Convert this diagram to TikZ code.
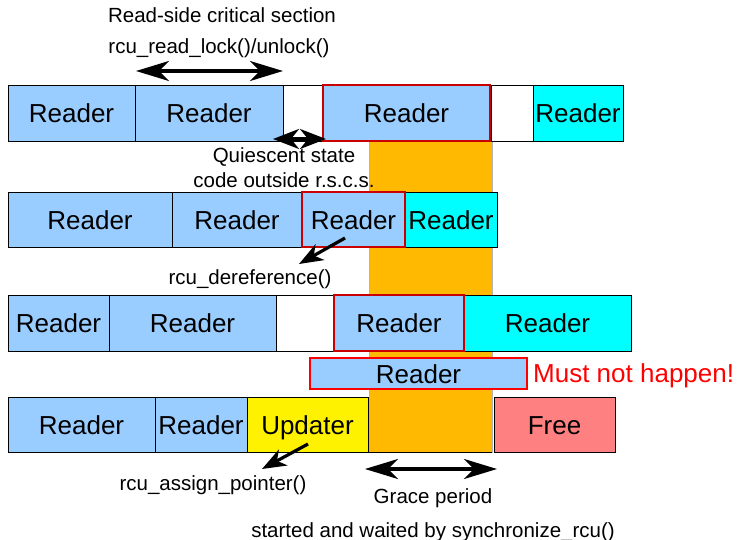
\documentclass[tikz,border=0pt]{standalone}
\usepackage{fontspec}
\setmainfont{Liberation Sans}
\usetikzlibrary{arrows.meta}

\definecolor{rdblue}{RGB}{153,204,255}
\definecolor{rdcyan}{RGB}{0,255,255}
\definecolor{gporange}{RGB}{255,185,0}
\definecolor{freered}{RGB}{255,128,128}
\definecolor{csred}{RGB}{200,0,0}

\begin{document}
\begin{tikzpicture}[x=1pt,y=-1pt,
	box/.style={draw, line width=0.8pt, anchor=north west, inner sep=0pt, outer sep=0pt,
		text height=20pt, text depth=0pt, font=\fontsize{26}{30}\selectfont},
	lbl/.style={anchor=base, inner sep=0pt, font=\fontsize{20.5}{24}\selectfont},
	dbl/.style={line width=3.2pt, {Stealth[length=33pt,width=20pt,inset=10pt]}-{Stealth[length=33pt,width=20pt,inset=10pt]}},
	dblshort/.style={line width=3.2pt, {Stealth[length=26pt,width=20pt,inset=8pt]}-{Stealth[length=26pt,width=20pt,inset=8pt]}},
	ptr/.style={line width=3.2pt, -{Stealth[length=24pt,width=18pt,inset=7pt]}}]
	\useasboundingbox (0,0) rectangle (740,540);

	% grace period band behind the rows
	\fill[gporange, draw=gray!60, line width=0.6pt] (369,141) rectangle (492,452);
	\draw[line width=0.8pt] (369,452) -- (492,452);

	% row 1
	\foreach \x/\w/\c/\t [count=\i] in {8/127/rdblue/Reader, 135/148/rdblue/Reader,
		283/40/white/{}, 491/42/white/{}, 533/90/rdcyan/Reader} {
		\node[box, fill=\c, minimum width=\w pt, minimum height=56pt] (a\i) at (\x,85) {\t};
	}
	\node[box, fill=rdblue, draw=csred, line width=1.5pt, minimum width=167pt, minimum height=56pt] (a6) at (323,85) {Reader};

	% row 2
	\foreach \x/\w/\c [count=\i] in {8/164/rdblue, 172/130/rdblue, 405/92/rdcyan} {
		\node[box, fill=\c, minimum width=\w pt, minimum height=55pt] (b\i) at (\x,192) {Reader};
	}
	\node[box, fill=rdblue, draw=csred, line width=1.5pt, minimum width=103pt, minimum height=55pt] (b4) at (302,192) {Reader};

	% row 3
	\foreach \x/\w/\c/\t [count=\i] in {8/101/rdblue/Reader, 109/167/rdblue/Reader,
		276/58/white/{}, 464/167/rdcyan/Reader} {
		\node[box, fill=\c, minimum width=\w pt, minimum height=56pt] (c\i) at (\x,295) {\t};
	}
	\node[box, fill=rdblue, draw=csred, line width=1.5pt, minimum width=130pt, minimum height=56pt] (c5) at (334,295) {Reader};

	% row 4: the bad case
	\node[box, fill=rdblue, draw=red, line width=2.5pt, minimum width=217pt, minimum height=31pt] (bad) at (310,358) {Reader};
	\node[lbl, anchor=base west, text=red, font=\fontsize{26}{30}\selectfont] (must) at (533,383) {Must not happen!};

	% row 5
	\foreach \x/\w/\c/\t [count=\i] in {8/147/rdblue/Reader, 155/92/rdblue/Reader,
		247/121/yellow/Updater, 494/121/freered/Free} {
		\node[box, fill=\c, minimum width=\w pt, minimum height=55pt] (d\i) at (\x,397) {\t};
	}

	% labels
	\node[lbl] (rscs) at (222,23) {Read-side critical section};
	\node[lbl] (rlock) at (219,54) {rcu\_read\_lock()/unlock()};
	\node[lbl] (qs) at (284,163) {Quiescent state};
	\node[lbl] (qsout) at (284,188) {code outside r.s.c.s.};
	\node[lbl] (deref) at (250,285) {rcu\_dereference()};
	\node[lbl] (assign) at (213,490) {rcu\_assign\_pointer()};
	\node[lbl] (gp) at (433,503) {Grace period};
	\node[lbl] (sync) at (433,537) {started and waited by synchronize\_rcu()};

	% arrows
	\coordinate (rl) at (136,71);
	\coordinate (rr) at (283,71);
	\draw[dbl] (rl) -- (rr);
	\coordinate (ql) at (273,139);
	\coordinate (qr) at (326,139);
	\draw[dblshort] (ql) -- (qr);
	\coordinate (gl) at (365,469);
	\coordinate (gr) at (497,469);
	\draw[dbl] (gl) -- (gr);
	\coordinate (dtail) at (345,238);
	\coordinate (dhead) at (299,264);
	\draw[ptr] (dtail) -- (dhead);
	\coordinate (atail) at (308,444);
	\coordinate (ahead) at (262,469);
	\draw[ptr] (atail) -- (ahead);
\end{tikzpicture}
\end{document}
